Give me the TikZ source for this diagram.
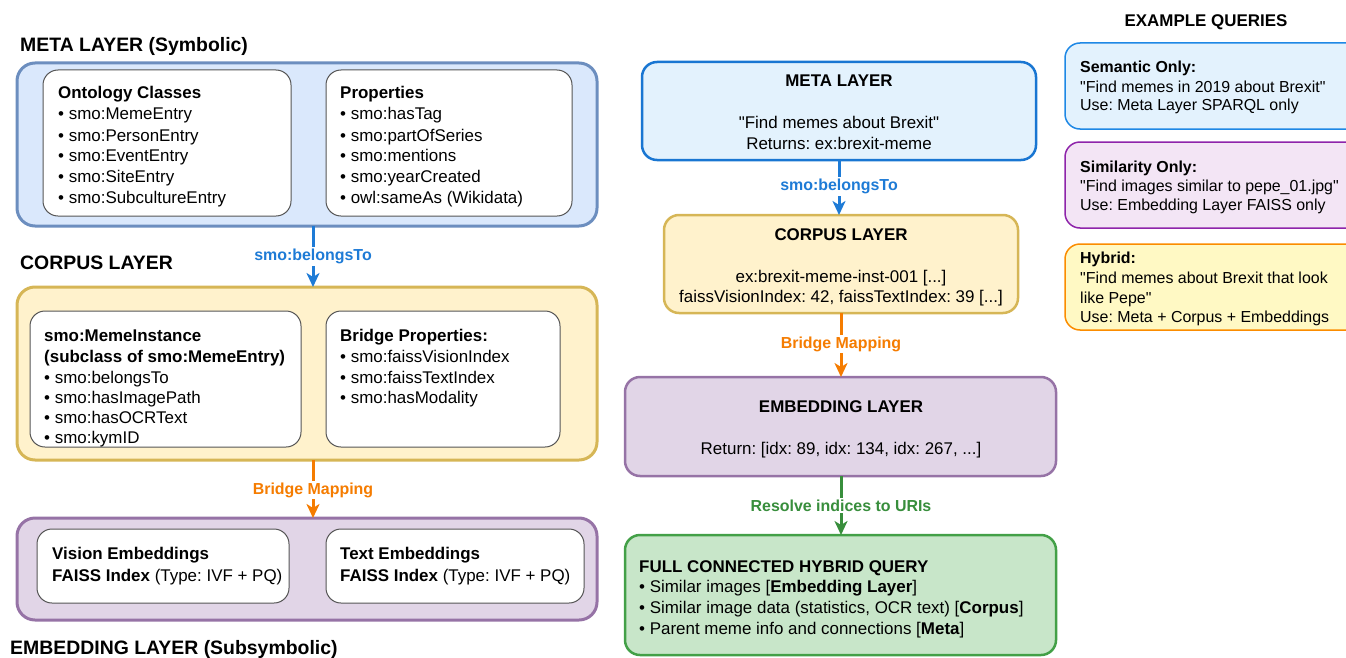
\documentclass[tikz,border=0pt]{standalone}
\usepackage{fontspec}
\setmainfont{Liberation Sans}[Ligatures=TeXOff]
\usetikzlibrary{arrows.meta}
\definecolor{metaFill}{HTML}{DAE8FC}
\definecolor{metaDraw}{HTML}{6C8EBF}
\definecolor{corpFill}{HTML}{FFF2CC}
\definecolor{corpDraw}{HTML}{D6B656}
\definecolor{embFill}{HTML}{E1D5E7}
\definecolor{embDraw}{HTML}{9673A6}
\definecolor{blueA}{HTML}{1E7BD6}
\definecolor{orangeA}{HTML}{F57C00}
\definecolor{greenA}{HTML}{388E3C}
\definecolor{mMetaFill}{HTML}{E3F2FD}
\definecolor{mMetaDraw}{HTML}{1976D2}
\definecolor{fullFill}{HTML}{C8E6C9}
\definecolor{fullDraw}{HTML}{43A047}
\definecolor{rOneFill}{HTML}{E3F2FD}
\definecolor{rOneDraw}{HTML}{1E88E5}
\definecolor{rTwoFill}{HTML}{F3E5F5}
\definecolor{rTwoDraw}{HTML}{8E24AA}
\definecolor{rThreeFill}{HTML}{FFF9C4}
\definecolor{rThreeDraw}{HTML}{FB8C00}
\definecolor{innerDraw}{HTML}{555555}
\begin{document}
\frenchspacing
\begin{tikzpicture}[x=1bp,y=-1bp,
  bx/.style={draw, anchor=north west, inner sep=0pt, outer sep=0pt},
  outerbox/.style={bx, line width=3bp, rounded corners=18bp},
  innerbox/.style={bx, draw=innerDraw, fill=white, line width=1bp, rounded corners=15bp},
  midbox/.style={bx, line width=2.5bp, rounded corners=15bp},
  rbox/.style={bx, line width=1.5bp, rounded corners=15bp},
  txt/.style={anchor=base west, inner sep=0pt, font=\fontsize{17}{20}\selectfont},
  btxt/.style={anchor=base west, inner sep=0pt, font=\fontsize{17}{20}\selectfont\bfseries},
  ctxt/.style={anchor=base, inner sep=0pt, font=\fontsize{17}{20}\selectfont},
  cbtxt/.style={anchor=base, inner sep=0pt, font=\fontsize{17}{20}\selectfont\bfseries},
  rtxt/.style={anchor=base west, inner sep=0pt, font=\fontsize{16}{19}\selectfont},
  rbtxt/.style={anchor=base west, inner sep=0pt, font=\fontsize{16}{19}\selectfont\bfseries},
  hd/.style={anchor=base west, inner sep=0pt, font=\fontsize{19.5}{22}\selectfont\bfseries},
  arr/.style={line width=3bp, -{Stealth[length=14bp,width=13bp,inset=4bp]}},
  lbl/.style={fill=white, inner sep=2bp, font=\fontsize{16}{18}\selectfont\bfseries},
]
\useasboundingbox (0,0) rectangle (1346,658);
\clip (0,0) rectangle (1346,658);

% ---------------- LEFT: META ----------------
\node[hd] (tMeta) at (20,52) {META LAYER (Symbolic)};
\node[outerbox, fill=metaFill, draw=metaDraw, minimum width=580bp, minimum height=163bp] (metaL) at (17,63) {};
\node[innerbox, minimum width=248bp, minimum height=146bp] (ontBox) at (43,70) {};
\node[innerbox, minimum width=246bp, minimum height=146bp] (propBox) at (326,70) {};
\node[btxt] (o0) at (58,99) {Ontology Classes};
\node[txt] (o1) at (58,120) {• smo:MemeEntry};
\node[txt] (o2) at (58,141) {• smo:PersonEntry};
\node[txt] (o3) at (58,161) {• smo:EventEntry};
\node[txt] (o4) at (58,182) {• smo:SiteEntry};
\node[txt] (o5) at (58,203) {• smo:SubcultureEntry};
\node[btxt] (p0) at (340,99) {Properties};
\node[txt] (p1) at (340,120) {• smo:hasTag};
\node[txt] (p2) at (340,141) {• smo:partOfSeries};
\node[txt] (p3) at (340,161) {• smo:mentions};
\node[txt] (p4) at (340,182) {• smo:yearCreated};
\node[txt] (p5) at (340,203) {• owl:sameAs (Wikidata)};

% ---------------- LEFT: CORPUS ----------------
\node[hd] (tCorp) at (20,269) {CORPUS LAYER};
\node[outerbox, fill=corpFill, draw=corpDraw, minimum width=580bp, minimum height=173bp] (corpL) at (17,287) {};
\node[innerbox, minimum width=271bp, minimum height=136bp] (instBox) at (30,311) {};
\node[innerbox, minimum width=234bp, minimum height=136bp] (bridgeBox) at (326,311) {};
\node[btxt] (i0) at (44,341) {smo:MemeInstance};
\node[btxt] (i1) at (44,362) {(subclass of smo:MemeEntry)};
\node[txt] (i2) at (44,383) {• smo:belongsTo};
\node[txt] (i3) at (44,403) {• smo:hasImagePath};
\node[txt] (i4) at (44,423) {• smo:hasOCRText};
\node[txt] (i5) at (44,443) {• smo:kymID};
\node[btxt] (b0) at (340,341) {Bridge Properties:};
\node[txt] (b1) at (340,362) {• smo:faissVisionIndex};
\node[txt] (b2) at (340,383) {• smo:faissTextIndex};
\node[txt] (b3) at (340,403) {• smo:hasModality};

% ---------------- LEFT: EMBEDDING ----------------
\node[outerbox, fill=embFill, draw=embDraw, minimum width=580bp, minimum height=102bp] (embL) at (17,518) {};
\node[innerbox, minimum width=252bp, minimum height=74bp] (visBox) at (37,529) {};
\node[innerbox, minimum width=258bp, minimum height=74bp] (textBox) at (326,529) {};
\node[btxt] (v0) at (52,559) {Vision Embeddings};
\node[txt] (v1) at (52,581) {\textbf{FAISS Index} (Type: IVF + PQ)};
\node[btxt] (t0) at (340,559) {Text Embeddings};
\node[txt] (t1) at (340,581) {\textbf{FAISS Index} (Type: IVF + PQ)};
\node[hd] (tEmb) at (10,654) {EMBEDDING LAYER (Subsymbolic)};

% left arrows
\draw[arr, draw=blueA] ([xshift=6bp]metaL.south) -- ([xshift=6bp]corpL.north)
  node[lbl, text=blueA, midway] (lb1) {smo:belongsTo};
\draw[arr, draw=orangeA] ([xshift=6bp]corpL.south) -- ([xshift=6bp]embL.north)
  node[lbl, text=orangeA, midway, yshift=-1bp] (lb2) {Bridge Mapping};

% ---------------- MIDDLE ----------------
\node[midbox, fill=mMetaFill, draw=mMetaDraw, minimum width=394bp, minimum height=98bp] (mMeta) at (642,62) {};
\node[cbtxt] (mm0) at (839,87) {META LAYER};
\node[ctxt] (mm1) at (839,129) {"Find memes about Brexit"};
\node[ctxt] (mm2) at (839,149) {Returns: ex:brexit-meme};

\node[midbox, fill=corpFill, draw=corpDraw, minimum width=354bp, minimum height=98bp] (mCorp) at (664,215) {};
\node[cbtxt] (mc0) at (841,240) {CORPUS LAYER};
\node[ctxt] (mc1) at (841,282) {ex:brexit-meme-inst-001 [...]};
\node[ctxt] (mc2) at (841,302) {faissVisionIndex: 42, faissTextIndex: 39 [...]};

\node[midbox, fill=embFill, draw=embDraw, minimum width=431bp, minimum height=99bp] (mEmb) at (625,377) {};
\node[cbtxt] (me0) at (841,412) {EMBEDDING LAYER};
\node[ctxt] (me1) at (841,454) {Return: [idx: 89, idx: 134, idx: 267, ...]};

\node[midbox, fill=fullFill, draw=fullDraw, minimum width=431bp, minimum height=120bp] (mFull) at (625,535) {};
\node[btxt] (mf0) at (639,572) {FULL CONNECTED HYBRID QUERY};
\node[txt] (mf1) at (639,592) {• Similar images [\textbf{Embedding Layer}]};
\node[txt] (mf2) at (639,613) {• Similar image data (statistics, OCR text) [\textbf{Corpus}]};
\node[txt] (mf3) at (639,634) {• Parent meme info and connections [\textbf{Meta}]};

\draw[arr, draw=blueA] (mMeta.south) -- (mMeta.south |- mCorp.north)
  node[lbl, text=blueA, midway, yshift=1bp] (lb3) {smo:belongsTo};
\draw[arr, draw=orangeA] (mCorp.south) -- (mCorp.south |- mEmb.north)
  node[lbl, text=orangeA, midway, yshift=1bp] (lb4) {Bridge Mapping};
\draw[arr, draw=greenA] (mCorp.south |- mEmb.south) -- (mCorp.south |- mFull.north)
  node[lbl, text=greenA, midway] (lb5) {Resolve indices to URIs};

% ---------------- RIGHT ----------------
\node[cbtxt] (tEx) at (1206,27) {EXAMPLE QUERIES};
\node[rbox, fill=rOneFill, draw=rOneDraw, minimum width=300bp, minimum height=86bp] (q1) at (1065,43) {};
\node[rbtxt] (q10) at (1080,73) {Semantic Only:};
\node[rtxt] (q11) at (1080,93) {"Find memes in 2019 about Brexit"};
\node[rtxt] (q12) at (1080,111) {Use: Meta Layer SPARQL only};
\node[rbox, fill=rTwoFill, draw=rTwoDraw, minimum width=300bp, minimum height=86bp] (q2) at (1065,142) {};
\node[rbtxt] (q20) at (1080,172) {Similarity Only:};
\node[rtxt] (q21) at (1080,191) {"Find images similar to pepe\_01.jpg"};
\node[rtxt] (q22) at (1080,210) {Use: Embedding Layer FAISS only};
\node[rbox, fill=rThreeFill, draw=rThreeDraw, minimum width=300bp, minimum height=86bp] (q3) at (1065,244) {};
\node[rbtxt] (q30) at (1080,263) {Hybrid:};
\node[rtxt] (q31) at (1080,283) {"Find memes about Brexit that look};
\node[rtxt] (q32) at (1080,303) {like Pepe"};
\node[rtxt] (q33) at (1080,322) {Use: Meta + Corpus + Embeddings};
\end{tikzpicture}
\end{document}
